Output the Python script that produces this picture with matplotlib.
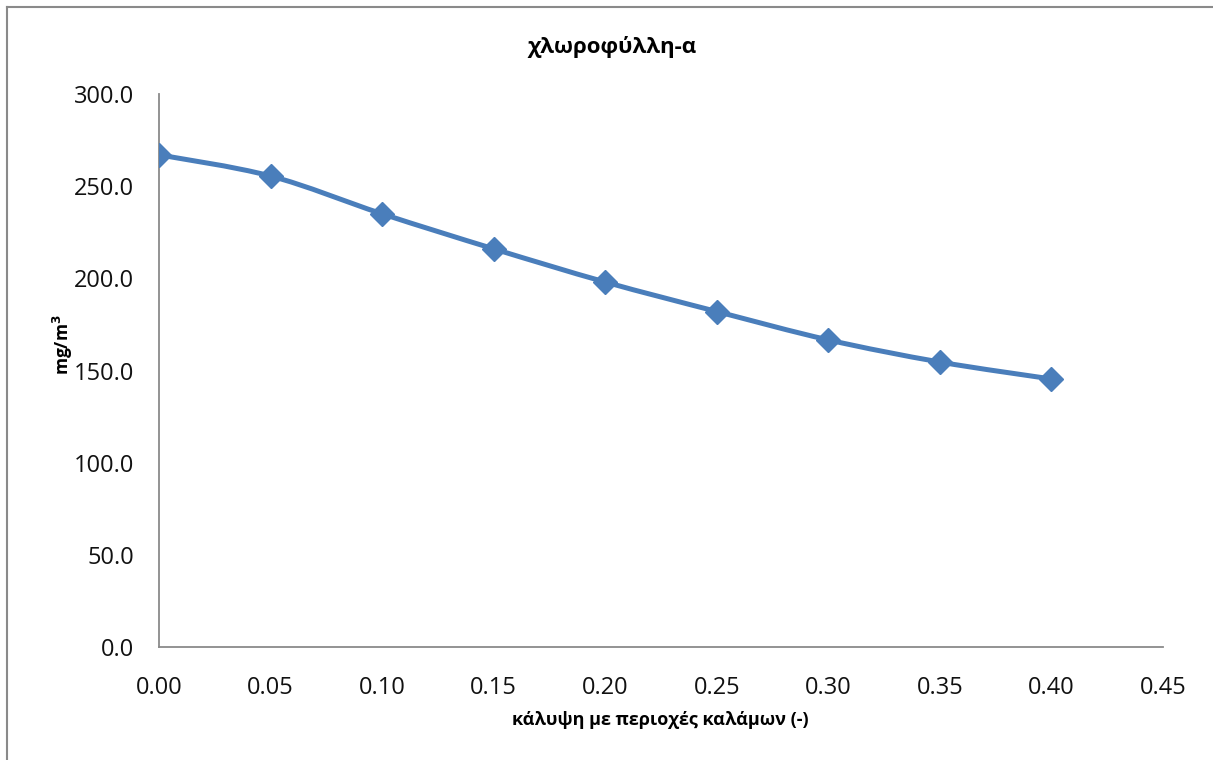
import numpy as np
import matplotlib.pyplot as plt
from matplotlib.path import Path
from matplotlib.patches import PathPatch
from matplotlib.lines import Line2D

plt.rcParams['font.family'] = ['Open Sans', 'DejaVu Sans']
plt.rcParams['mathtext.default'] = 'bf'

# data
coverage = [0.00, 0.05, 0.10, 0.15, 0.20, 0.25, 0.30, 0.35, 0.40]
chl_a = [267.0, 255.5, 235.0, 216.0, 198.0, 182.0, 166.6, 154.6, 145.4]

title = "χλωροφύλλη-α"
xlabel = "κάλυψη με περιοχές καλάμων (-)"
ylabel = "mg/m$^3$"
color = "#4A7EBB"


def smooth_path(x, y):
    # excel-like smoothed line: cubic bezier through the points
    pts = np.column_stack([x, y])
    n = len(pts)
    verts = [pts[0]]
    codes = [Path.MOVETO]
    for i in range(n - 1):
        p0 = pts[i - 1] if i > 0 else pts[i]
        p1 = pts[i]
        p2 = pts[i + 1]
        p3 = pts[i + 2] if i + 2 < n else pts[i + 1]
        c1 = p1 + (p2 - p0) / 6.0
        c2 = p2 - (p3 - p1) / 6.0
        verts += [c1, c2, p2]
        codes += [Path.CURVE4] * 3
    return Path(verts, codes)


fig = plt.figure(figsize=(12.13, 7.6), dpi=100)
ax = fig.add_axes([159/1213, 1 - 647/760, (1163-159)/1213, (647-94)/760])

ax.add_patch(PathPatch(smooth_path(coverage, chl_a), fill=False,
                       edgecolor=color, lw=3.6, capstyle='round', zorder=2))
ax.plot(coverage, chl_a, ls='none', marker='D', ms=12, color=color, zorder=3)

ax.set_xlim(0, 0.45)
ax.set_ylim(0, 300)
ax.set_xticks(np.arange(0, 0.451, 0.05))
ax.set_yticks(np.arange(0, 301, 50))
ax.set_xticklabels([f"{v:.2f}" for v in np.arange(0, 0.451, 0.05)])
ax.set_yticklabels([f"{v:.1f}" for v in np.arange(0, 301, 50)])
ax.tick_params(length=0, labelsize=17, colors='#111111')
ax.tick_params(axis='x', pad=21)
ax.tick_params(axis='y', pad=18)

for s in ['top', 'right']:
    ax.spines[s].set_visible(False)
for s in ['left', 'bottom']:
    ax.spines[s].set_color('#8a8a8a')
    ax.spines[s].set_linewidth(1.3)

fig.text(612/1213, 1 - 47/760, title, ha='center', va='center',
         fontsize=16, fontweight='bold')
fig.text(660/1213, 1 - 720/760, xlabel, ha='center', va='center',
         fontsize=13, fontweight='bold')
fig.text(63/1213, 1 - 345/760, ylabel, ha='center', va='center',
         fontsize=12.5, fontweight='bold', rotation=90)

# outer chart border (left and top visible)
fig.add_artist(Line2D([7/1213, 7/1213], [0, 1 - 7/760], color='#8a8a8a',
                      lw=1.5, transform=fig.transFigure))
fig.add_artist(Line2D([7/1213, 1], [1 - 7/760, 1 - 7/760], color='#8a8a8a',
                      lw=1.5, transform=fig.transFigure))

fig.savefig("out.png", dpi=100)
